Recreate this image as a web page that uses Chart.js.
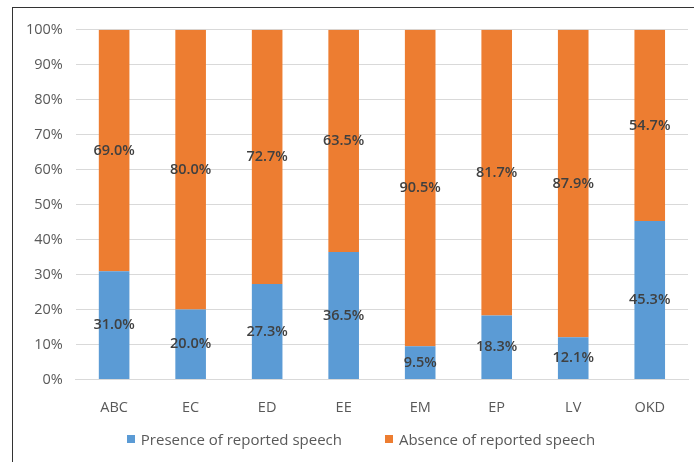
<!DOCTYPE html>
<html>
<head>
<meta charset="utf-8">
<script src="https://cdn.jsdelivr.net/npm/chart.js@4.4.0/dist/chart.umd.min.js"></script>
<style>
  html, body { margin: 0; padding: 0; background: #fff; }
  #frame {
    position: absolute; left: 12px; top: 7px;
    width: 682px; height: 455px;
    border-left: 1.5px solid #333; border-top: 1.5px solid #333;
    box-sizing: border-box;
  }
  #chart { display: block; }
  #legend {
    position: absolute; left: 28px; right: 0; top: 429px; height: 20px;
    display: flex; justify-content: center; gap: 43px;
    font: 15px/20px "Open Sans", "DejaVu Sans", sans-serif; color: #595959;
  }
  #legend span { display: flex; align-items: center; white-space: nowrap; }
  #legend i { display: inline-block; width: 8px; height: 8px; margin-right: 6px; }
</style>
</head>
<body>
<div id="frame"><canvas id="chart" width="680" height="453"></canvas></div>
<div id="legend"></div>
<script>
const categories = ['ABC', 'EC', 'ED', 'EE', 'EM', 'EP', 'LV', 'OKD'];
const presence = [31.0, 20.0, 27.3, 36.5, 9.5, 18.3, 12.1, 45.3];
const absence = [69.0, 80.0, 72.7, 63.5, 90.5, 81.7, 87.9, 54.7];

const FONT = '"Open Sans", "DejaVu Sans", sans-serif';

// writes each segment's percentage in the middle of its bar piece
const segmentLabels = {
  id: 'segmentLabels',
  afterDatasetsDraw(chart) {
    const ctx = chart.ctx;
    ctx.save();
    ctx.font = '600 14.5px ' + FONT;
    ctx.fillStyle = '#404040';
    ctx.textAlign = 'center';
    ctx.textBaseline = 'middle';
    chart.data.datasets.forEach((ds, i) => {
      chart.getDatasetMeta(i).data.forEach((bar, j) => {
        const p = bar.getCenterPoint();
        ctx.fillText(ds.data[j].toFixed(1) + '%', p.x, p.y);
      });
    });
    ctx.restore();
  }
};

const chart = new Chart(document.getElementById('chart'), {
  type: 'bar',
  data: {
    labels: categories,
    datasets: [
      { label: 'Presence of reported speech', data: presence, backgroundColor: '#5B9BD5' },
      { label: 'Absence of reported speech', data: absence, backgroundColor: '#ED7D31' }
    ]
  },
  options: {
    responsive: false,
    animation: false,
    layout: { padding: { top: 12, right: 5, left: 0, bottom: 32 } },
    datasets: { bar: { barPercentage: 0.4, categoryPercentage: 1 } },
    plugins: {
      legend: { display: false },
      tooltip: { enabled: false }
    },
    scales: {
      x: {
        stacked: true,
        grid: { display: false },
        border: { color: '#d9d9d9' },
        ticks: { color: '#595959', font: { family: FONT, size: 14.5 }, padding: 12 }
      },
      y: {
        stacked: true,
        min: 0, max: 100,
        grid: { color: '#d9d9d9', drawTicks: false },
        border: { display: false },
        ticks: {
          stepSize: 10, padding: 13,
          color: '#595959', font: { family: FONT, size: 14.5 },
          callback: v => v + '%'
        }
      }
    }
  },
  plugins: [segmentLabels]
});

// html legend built from the chart's own legend items (wider gap between entries)
const legendItems = Chart.defaults.plugins.legend.labels.generateLabels(chart);
document.getElementById('legend').innerHTML = legendItems.map(item =>
  `<span><i style="background:${item.fillStyle}"></i>${item.text}</span>`
).join('');
</script>
</body>
</html>
